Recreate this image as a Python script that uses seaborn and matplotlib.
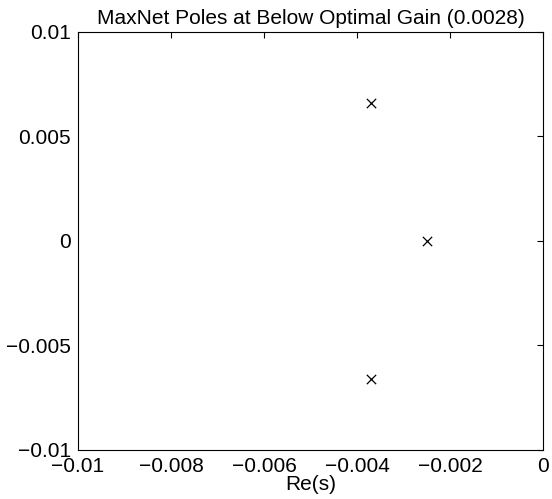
import matplotlib
matplotlib.use("Agg")
import matplotlib.pyplot as plt
import seaborn as sns
import pandas as pd

# Closed-loop pole locations (real, imaginary)
pole_re = [-0.0037, -0.0025, -0.0037]
pole_im = [0.0066, 0.0, -0.0066]

x_ticks = [-0.01, -0.008, -0.006, -0.004, -0.002, 0]
x_tick_labels = ["\u22120.01", "\u22120.008", "\u22120.006", "\u22120.004", "\u22120.002", "0"]
y_ticks = [-0.01, -0.005, 0, 0.005, 0.01]
y_tick_labels = ["\u22120.01", "\u22120.005", "0", "0.005", "0.01"]

sns.set_theme(style="white")
plt.rcParams["font.family"] = ["Liberation Sans", "DejaVu Sans"]
plt.rcParams["xtick.direction"] = "in"
plt.rcParams["ytick.direction"] = "in"

df = pd.DataFrame({"re": pole_re, "im": pole_im})

fig = plt.figure(figsize=(5.52, 4.99), dpi=100)
ax = fig.add_axes([0.1413, 0.0982, 0.8424, 0.8377])

sns.scatterplot(data=df, x="re", y="im", marker="x", color="black",
                s=45, linewidth=0.9, ax=ax, legend=False)

ax.set_xlim(-0.01, 0)
ax.set_ylim(-0.01, 0.01)
ax.set_xticks(x_ticks)
ax.set_xticklabels(x_tick_labels)
ax.set_yticks(y_ticks)
ax.set_yticklabels(y_tick_labels)
ax.tick_params(axis="both", which="both", direction="in", length=4, width=0.8,
               top=True, right=True, labelsize=15, colors="black")
ax.tick_params(axis="x", pad=5)
ax.tick_params(axis="y", pad=5)
ax.set_xlabel("Re(s)", fontsize=15, color="black", labelpad=-1)
ax.set_ylabel("")
ax.set_title("MaxNet Poles at Below Optimal Gain (0.0028)", fontsize=15, color="black", pad=6)
for sp in ax.spines.values():
    sp.set_visible(True)
    sp.set_color("black")
    sp.set_linewidth(0.8)

fig.savefig("out.png", dpi=100, facecolor="white")
